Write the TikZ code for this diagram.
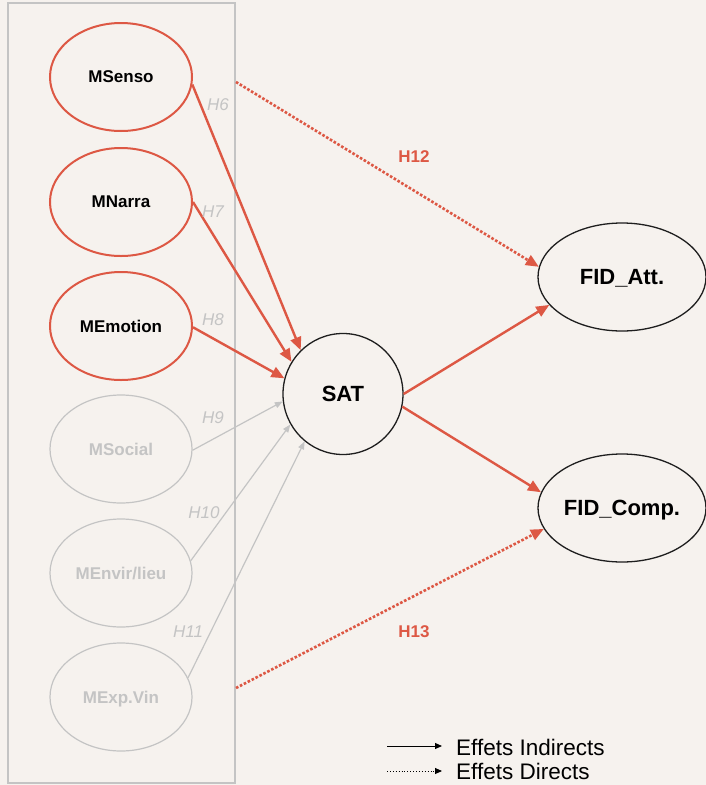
\documentclass[tikz,border=0pt]{standalone}
\usepackage{fontspec}
\setmainfont{Liberation Sans}
\usetikzlibrary{arrows.meta,shapes.geometric}
\definecolor{paper}{RGB}{246,242,238}
\definecolor{accent}{RGB}{221,88,68}
\definecolor{faded}{RGB}{196,196,196}
\definecolor{ink}{RGB}{30,30,30}
\tikzset{
  x=1pt, y=-1pt,
  construct/.style={ellipse, minimum width=142, minimum height=108, inner sep=0pt,
    text depth=0pt, font=\bfseries\fontsize{17}{20}\selectfont},
  active/.style={construct, draw=accent, line width=2pt, text=black},
  inactive/.style={construct, draw=faded, line width=1.2pt, text=faded},
  outcome/.style={ellipse, draw=ink, line width=1.3pt, minimum width=168, minimum height=108,
    inner sep=0pt, text depth=0pt, font=\bfseries\fontsize{22}{26}\selectfont},
  hyp/.style={text=faded, font=\itshape\fontsize{17}{20}\selectfont, inner sep=0pt},
  hypred/.style={text=accent, font=\bfseries\fontsize{17}{20}\selectfont, inner sep=0pt},
  redarrow/.style={draw=accent, line width=2.4pt, -{Triangle[length=13,width=11]}},
  greyarrow/.style={draw=faded, line width=1.2pt, -{Triangle[length=8,width=6]}},
  directarrow/.style={draw=accent, line width=2.6pt, line cap=butt,
    dash pattern=on 2.6pt off 1.8pt, -{Triangle[length=13,width=11]}},
  legendtext/.style={anchor=base west, inner sep=0pt, font=\fontsize{22.5}{26}\selectfont}
}
\begin{document}
\begin{tikzpicture}
  % canvas
  \fill[paper] (0,0) rectangle (706,785);
  \useasboundingbox (0,0) rectangle (706,785);

  % frame around the experience dimensions
  \draw[faded, line width=1.2pt] (8,3) rectangle (235,783);

  % experience dimensions
  \node[active]   (msenso)  at (121,77)  {MSenso};
  \node[active]   (mnarra)  at (121,202) {MNarra};
  \node[active]   (memo)    at (121,326) {MEmotion};
  \node[inactive] (msocial) at (121,449) {MSocial};
  \node[inactive] (menvir)  at (121,573) {MEnvir/lieu};
  \node[inactive] (mexp)    at (121,697) {MExp.Vin};

  % mediator and outcomes
  \node[ellipse, draw=ink, line width=1.3pt, minimum width=120, minimum height=121,
        inner sep=0pt, text depth=0pt, font=\bfseries\fontsize{22}{26}\selectfont]
        (sat) at (343,394) {SAT};
  \node[outcome] (fidatt)  at (622,277) {FID\_Att.};
  \node[outcome] (fidcomp) at (622,508) {FID\_Comp.};

  % paths to satisfaction
  \draw[redarrow]  (msenso.-6)  -- (sat.134);
  \draw[redarrow]  (mnarra.0)   -- (sat.148);
  \draw[redarrow]  (memo.-1)    -- (sat.165);
  \draw[greyarrow] (msocial.-1) -- (sat.187);
  \draw[greyarrow] (menvir.10)  -- (sat.210);
  \draw[greyarrow] (mexp.16)    -- (sat.231);

  % satisfaction to loyalty
  \draw[redarrow] (sat.0)   -- (fidatt.201);
  \draw[redarrow] (sat.-12) -- (fidcomp.169);

  % direct effects
  \coordinate (d12) at (236,82);
  \coordinate (d13) at (236,688);
  \draw[directarrow] (d12) -- (fidatt.173);
  \draw[directarrow] (d13) -- (fidcomp.195);

  % hypothesis labels
  \node[hyp] (h6)  at (218,105) {H6};
  \node[hyp] (h7)  at (213,212) {H7};
  \node[hyp] (h8)  at (213,320) {H8};
  \node[hyp] (h9)  at (213,418) {H9};
  \node[hyp] (h10) at (204,513) {H10};
  \node[hyp] (h11) at (188,632) {H11};
  \node[hypred] (h12) at (414,157) {H12};
  \node[hypred] (h13) at (414,632) {H13};

  % legend
  \coordinate (la1) at (387,746);
  \coordinate (lb1) at (442,746);
  \coordinate (la2) at (387,771);
  \coordinate (lb2) at (442,771);
  \draw[black, line width=1pt, -{Triangle[length=7,width=6]}] (la1) -- (lb1);
  \draw[black, line width=0.9pt, dotted, -{Triangle[length=7,width=6]}] (la2) -- (lb2);
  \node[legendtext] (li) at (456,755) {Effets Indirects};
  \node[legendtext] (ld) at (456,779) {Effets Directs};
\end{tikzpicture}
\end{document}
